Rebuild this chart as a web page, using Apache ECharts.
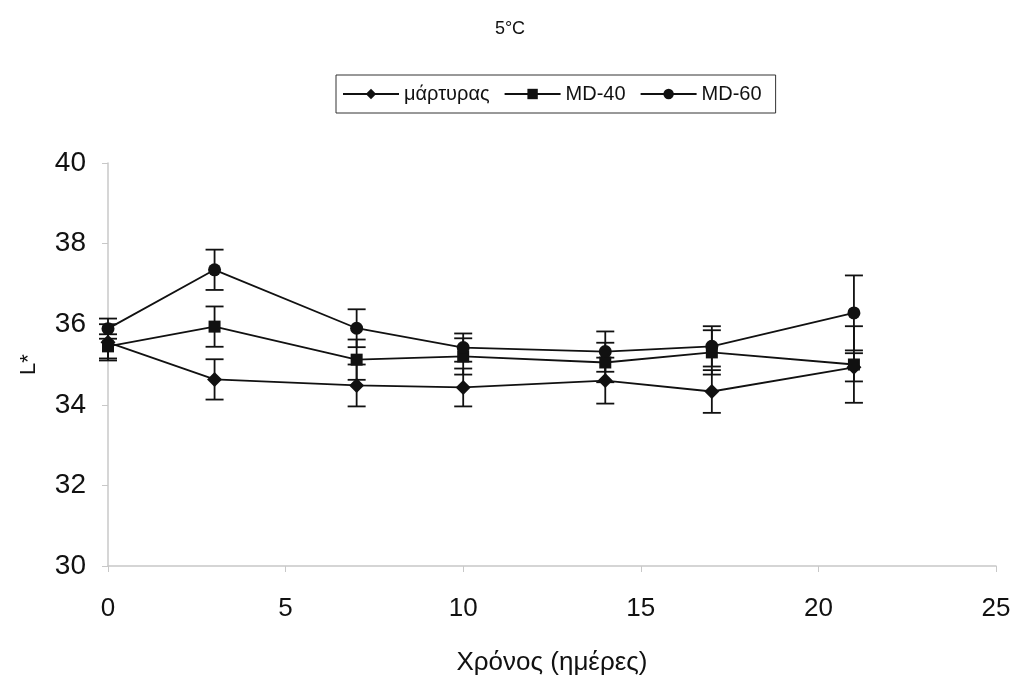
<!DOCTYPE html>
<html>
<head>
<meta charset="utf-8">
<script src="https://cdn.jsdelivr.net/npm/echarts@6/dist/echarts.min.js"></script>
<style>
  html, body { margin: 0; padding: 0; background: #fff; }
  #myChart { width: 1017px; height: 681px; }
</style>
</head>
<body>
<div id="myChart"></div>
<script>
// ημέρες
var days = [0, 3, 7, 10, 14, 17, 21];
// μάρτυρας
var control = [35.55, 34.63, 34.48, 34.43, 34.6, 34.33, 34.93];
var controlErr = [0.45, 0.5, 0.52, 0.47, 0.57, 0.53, 0.35];
// MD-40
var md40 = [35.45, 35.94, 35.12, 35.2, 35.05, 35.3, 35.0];
var md40Err = [0.3, 0.5, 0.5, 0.45, 0.49, 0.55, 0.95];
// MD-60
var md60 = [35.89, 37.35, 35.9, 35.42, 35.32, 35.45, 36.28];
var md60Err = [0.25, 0.5, 0.47, 0.35, 0.5, 0.5, 0.93];
var yTicks = [30, 32, 34, 36, 38, 40];
var xTicks = [0, 5, 10, 15, 20, 25];

var font = "'Liberation Sans', Arial, sans-serif";

function pts(vals) {
  return days.map(function (d, i) { return [d, vals[i]]; });
}
function errData(vals, errs) {
  return days.map(function (d, i) { return [d, vals[i] - errs[i], vals[i] + errs[i]]; });
}
function errorSeries(name, vals, errs) {
  return {
    name: name + " (σφάλμα)",
    type: "custom",
    silent: true,
    z: 1,
    data: errData(vals, errs),
    renderItem: function (params, api) {
      var lo = api.coord([api.value(0), api.value(1)]);
      var hi = api.coord([api.value(0), api.value(2)]);
      var w = 9;
      var st = { stroke: "#111", lineWidth: 1.8 };
      return {
        type: "group",
        children: [
          { type: "line", shape: { x1: hi[0], y1: hi[1], x2: lo[0], y2: lo[1] }, style: st },
          { type: "line", shape: { x1: hi[0] - w, y1: hi[1], x2: hi[0] + w, y2: hi[1] }, style: st },
          { type: "line", shape: { x1: lo[0] - w, y1: lo[1], x2: lo[0] + w, y2: lo[1] }, style: st }
        ]
      };
    }
  };
}
function lineSeries(name, vals, symbol, size) {
  return {
    name: name,
    type: "line",
    data: pts(vals),
    symbol: symbol,
    symbolSize: size,
    z: 3,
    lineStyle: { color: "#111", width: 1.8 },
    itemStyle: { color: "#111" }
  };
}

var myChart = echarts.init(document.getElementById("myChart"));
var option = {
  animation: false,
  backgroundColor: "#fff",
  title: {
    text: "5°C",
    left: 505,
    top: 15,
    textAlign: "center",
    textStyle: { fontFamily: font, fontSize: 18, fontWeight: "normal", color: "#111" }
  },
  legend: {
    data: ["μάρτυρας", "MD-40", "MD-60"],
    left: 336,
    top: 75,
    padding: [9, 14, 9, 6],
    itemGap: 14,
    itemWidth: 56,
    itemHeight: 13,
    borderColor: "#333",
    borderWidth: 1,
    borderRadius: 0,
    textStyle: { fontFamily: font, fontSize: 20, color: "#111" }
  },
  grid: { left: 108, right: 21, top: 163, bottom: 114 },
  xAxis: {
    type: "value",
    min: 0,
    max: 25,
    interval: 5,
    name: "Χρόνος (ημέρες)",
    nameLocation: "middle",
    nameGap: 84,
    nameTextStyle: { fontFamily: font, fontSize: 26, color: "#111" },
    axisLine: { onZero: false, lineStyle: { color: "#c8c8c8", width: 1.5 } },
    axisTick: { show: true, length: 6, lineStyle: { color: "#c8c8c8" } },
    axisLabel: {
      margin: 30, fontFamily: font, fontSize: 26, color: "#111",
      formatter: function (v) { return xTicks.indexOf(v) >= 0 ? String(v) : ""; }
    },
    splitLine: { show: false }
  },
  yAxis: {
    type: "value",
    min: 30,
    max: 40,
    interval: 2,
    name: "L*",
    nameLocation: "middle",
    nameGap: 68,
    nameRotate: 90,
    nameTextStyle: { fontFamily: font, fontSize: 22, color: "#111" },
    axisLine: { show: true, lineStyle: { color: "#c8c8c8", width: 1.5 } },
    axisTick: { show: true, length: 6, lineStyle: { color: "#c8c8c8" } },
    axisLabel: {
      margin: 22, fontFamily: font, fontSize: 28, color: "#111",
      formatter: function (v) { return yTicks.indexOf(v) >= 0 ? String(v) : ""; }
    },
    splitLine: { show: false }
  },
  series: [
    lineSeries("μάρτυρας", control, "diamond", 15),
    lineSeries("MD-40", md40, "rect", 12),
    lineSeries("MD-60", md60, "circle", 13),
    errorSeries("μάρτυρας", control, controlErr),
    errorSeries("MD-40", md40, md40Err),
    errorSeries("MD-60", md60, md60Err)
  ]
};
myChart.setOption(option);
window.onresize = myChart.resize;
</script>
</body>
</html>
